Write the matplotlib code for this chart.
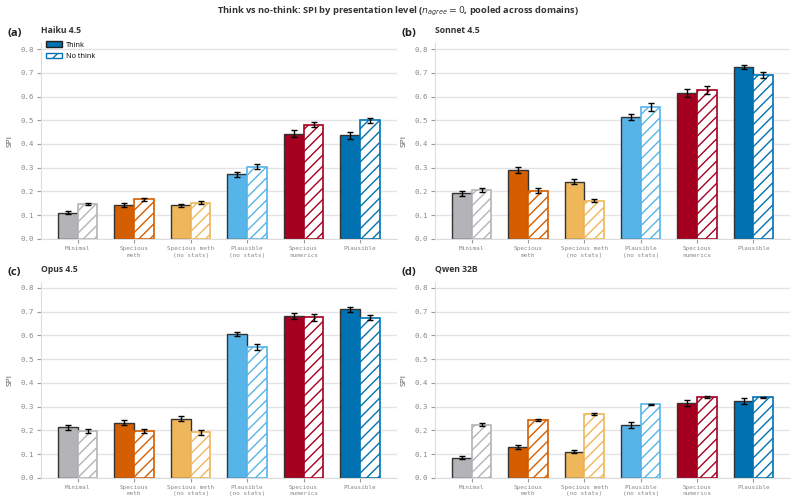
import numpy as np
import matplotlib
matplotlib.use("Agg")
import matplotlib.pyplot as plt
from matplotlib.patches import Patch

# --- data ---
levels = ["Minimal", "Specious\nmeth", "Specious meth\n(no stats)",
          "Plausible\n(no stats)", "Specious\nnumerics", "Plausible"]
level_colors = ["#b4b4b8", "#d55e00", "#efb65a", "#56b4e9", "#a5001f", "#0072b2"]

models = ["Haiku 4.5", "Sonnet 4.5", "Opus 4.5", "Qwen 32B"]
panel_tags = ["(a)", "(b)", "(c)", "(d)"]

haiku_think = [0.110, 0.144, 0.141, 0.273, 0.444, 0.436]
haiku_nothink = [0.146, 0.167, 0.153, 0.305, 0.482, 0.499]
haiku_think_err = [0.006, 0.008, 0.008, 0.011, 0.014, 0.013]
haiku_nothink_err = [0.005, 0.007, 0.007, 0.009, 0.011, 0.010]

sonnet_think = [0.192, 0.290, 0.242, 0.514, 0.615, 0.724]
sonnet_nothink = [0.207, 0.203, 0.161, 0.557, 0.627, 0.689]
sonnet_think_err = [0.009, 0.012, 0.012, 0.013, 0.015, 0.010]
sonnet_nothink_err = [0.009, 0.010, 0.007, 0.017, 0.017, 0.013]

opus_think = [0.213, 0.232, 0.249, 0.606, 0.683, 0.710]
opus_nothink = [0.199, 0.197, 0.193, 0.551, 0.676, 0.675]
opus_think_err = [0.009, 0.011, 0.011, 0.010, 0.013, 0.010]
opus_nothink_err = [0.009, 0.009, 0.010, 0.012, 0.013, 0.010]

qwen_think = [0.086, 0.131, 0.111, 0.223, 0.315, 0.323]
qwen_nothink = [0.225, 0.245, 0.269, 0.310, 0.342, 0.339]
qwen_think_err = [0.006, 0.009, 0.008, 0.011, 0.013, 0.013]
qwen_nothink_err = [0.005, 0.005, 0.004, 0.003, 0.004, 0.003]

think_vals = [haiku_think, sonnet_think, opus_think, qwen_think]
nothink_vals = [haiku_nothink, sonnet_nothink, opus_nothink, qwen_nothink]
think_errs = [haiku_think_err, sonnet_think_err, opus_think_err, qwen_think_err]
nothink_errs = [haiku_nothink_err, sonnet_nothink_err, opus_nothink_err, qwen_nothink_err]

plt.rcParams['font.family'] = ['Open Sans', 'DejaVu Sans']
plt.rcParams['mathtext.fontset'] = 'dejavusans'
plt.rcParams['hatch.linewidth'] = 1.0

fig = plt.figure(figsize=(7.96, 5.01), dpi=100)

# axes rectangles [left, bottom, width, height] in figure fractions
rects = [
    [0.0515, 0.523, 0.447, 0.391],
    [0.5465, 0.523, 0.446, 0.391],
    [0.0515, 0.046, 0.447, 0.391],
    [0.5465, 0.046, 0.446, 0.391],
]

x = np.arange(len(levels))
w = 0.35
mono = 'DejaVu Sans Mono'

for i in range(4):
    ax = fig.add_axes(rects[i])
    ax.set_axisbelow(True)
    ax.grid(axis='y', color='#e4e4e8', linewidth=1.0)
    for j in range(len(levels)):
        c = level_colors[j]
        ax.bar(x[j] - w / 2, think_vals[i][j], w, color=c, edgecolor='#333333', linewidth=1.0)
        ax.bar(x[j] + w / 2, nothink_vals[i][j], w, color='white', edgecolor=c,
               hatch='///', linewidth=1.2)
    ax.errorbar(x - w / 2, think_vals[i], yerr=think_errs[i], fmt='none',
                ecolor='black', elinewidth=1.0, capsize=2, capthick=1.0)
    ax.errorbar(x + w / 2, nothink_vals[i], yerr=nothink_errs[i], fmt='none',
                ecolor='black', elinewidth=1.0, capsize=2, capthick=1.0)

    ax.set_xlim(-0.65, 5.65)
    ax.set_ylim(0, 0.825)
    ax.set_yticks(np.arange(0, 0.81, 0.1))
    ax.set_yticklabels([f"{v:.1f}" for v in np.arange(0, 0.81, 0.1)],
                       family=mono, fontsize=5.3, color='#888888')
    ax.set_xticks(x)
    ax.set_xticklabels(levels, family=mono, fontsize=4.3, color='#888888', linespacing=1.4)
    ax.tick_params(axis='both', length=3, color='#999999', width=0.8, pad=2)
    for s in ['top', 'right']:
        ax.spines[s].set_visible(False)
    ax.spines['left'].set_color('#dddddd')
    ax.spines['bottom'].set_color('#dddddd')
    ax.set_ylabel("SPI", fontsize=6, color='#555555', labelpad=5)
    ax.set_title(models[i], loc='left', fontsize=6.2, fontweight='bold', color='#333333', pad=7.5)
    ax.text(-0.095, 1.022, panel_tags[i], transform=ax.transAxes, fontsize=8,
            fontweight='bold', color='#222222', ha='left', va='bottom')

    if i == 0:
        handles = [Patch(facecolor='#0072b2', edgecolor='#222222', linewidth=1.0),
                   Patch(facecolor='white', edgecolor='#0072b2', hatch='///', linewidth=1.0)]
        ax.legend(handles, ["Think", "No think"], loc='upper left', fontsize=5.3,
                  frameon=False, handlelength=2.2, handleheight=0.7,
                  borderaxespad=0.3, labelspacing=0.6, handletextpad=0.5,
                  bbox_to_anchor=(0.0, 1.035))

fig.suptitle(r"Think vs no-think: SPI by presentation level ($n_{agree}=0$, pooled across domains)",
             fontsize=6.7, fontweight='bold', color='#333333', y=0.99)

fig.savefig("out.png", dpi=100)
